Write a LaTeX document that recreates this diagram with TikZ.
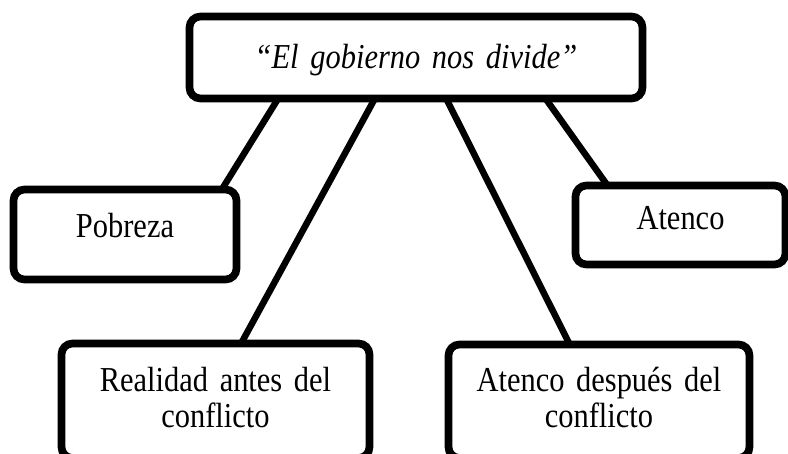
\documentclass[tikz,border=0pt]{standalone}
\usepackage{fontspec}
\setmainfont{Liberation Serif}[FakeStretch=0.87]
\usepackage{tikz}

\begin{document}
\begin{tikzpicture}[x=1pt,y=1pt,
  caja/.style={draw,line width=7.7pt,rounded corners=11pt,inner sep=0pt,outer sep=0pt,
    align=center,anchor=north west,font=\fontsize{35}{36}\selectfont},
  rama/.style={line width=6.5pt}]
\useasboundingbox (0,0) rectangle (788,-453);
\node[caja,text width=453pt,text height=51.5pt,text depth=30.5pt] (gob) at (189.5,-16.5) {\itshape “El gobierno nos divide”};
\node[caja,text width=223pt,text height=47.5pt,text depth=42.5pt] (pob) at (13.5,-189.5) {Pobreza};
\node[caja,text width=210pt,text height=44pt,text depth=35pt] (ate) at (575.5,-185.5) {Atenco};
\node[caja,text width=308pt,text height=48pt,text depth=66.5pt] (rea) at (61.5,-343.5) {Realidad antes del\\conflicto};
\node[caja,text width=301pt,text height=47pt,text depth=66.5pt] (des) at (448.5,-344.5) {Atenco después del\\conflicto};
\draw[rama] ([xshift=88.7pt]gob.south west) -- ([xshift=208.3pt]pob.north west);
\draw[rama] ([xshift=185.4pt]gob.south west) -- ([xshift=179.6pt]rea.north west);
\draw[rama] ([xshift=256.7pt]gob.south west) -- ([xshift=121.2pt]des.north west);
\draw[rama] ([xshift=356pt]gob.south west) -- ([xshift=32pt]ate.north west);
\end{tikzpicture}
\end{document}
